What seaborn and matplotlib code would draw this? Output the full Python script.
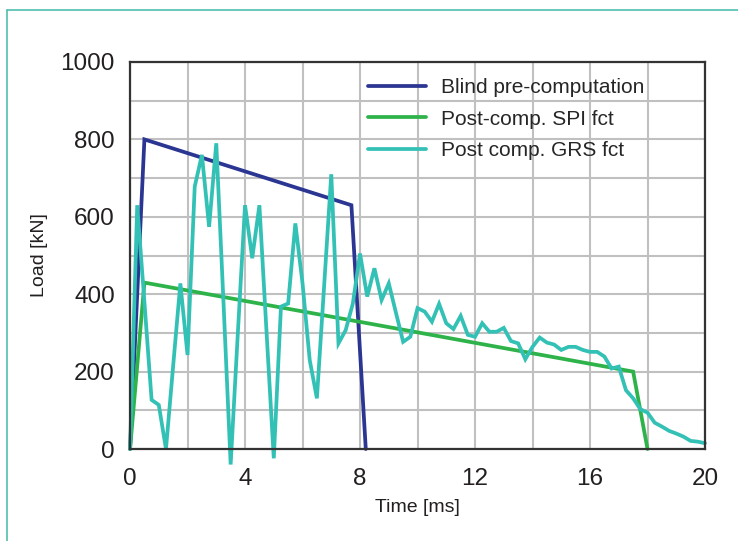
import numpy as np
import pandas as pd
import seaborn as sns
import matplotlib.pyplot as plt
from matplotlib.lines import Line2D
from matplotlib.ticker import MultipleLocator

# blind pre-computation (time in ms, load in kN)
blind_t = [0, 0.5, 7.7, 8.2]
blind_load = [0, 800, 630, 0]

# post-comp. SPI fct
spi_t = [0, 0.5, 17.5, 18.0]
spi_load = [0, 430, 200, 0]

# post comp. GRS fct, sampled every 0.25 ms
grs_t = [0, 0.25, 0.5, 0.75, 1.0, 1.25, 1.5, 1.75, 2.0, 2.25, 2.5, 2.75, 3.0, 3.25,
         3.5, 3.75, 4.0, 4.25, 4.5, 4.75, 5.0, 5.25, 5.5, 5.75, 6.0, 6.25, 6.5, 6.75,
         7.0, 7.25, 7.5, 7.75, 8.0, 8.25, 8.5, 8.75, 9.0, 9.25, 9.5, 9.75, 10.0, 10.25,
         10.5, 10.75, 11.0, 11.25, 11.5, 11.75, 12.0, 12.25, 12.5, 12.75, 13.0, 13.25,
         13.5, 13.75, 14.0, 14.25, 14.5, 14.75, 15.0, 15.25, 15.5, 15.75, 16.0, 16.25,
         16.5, 16.75, 17.0, 17.25, 17.5, 17.75, 18.0, 18.25, 18.5, 18.75, 19.0, 19.25,
         19.5, 19.75, 20.0]
grs_load = [0, 630, 380, 127, 114, 0, 215, 428, 243, 678, 760, 574, 790, 380,
            -40, 300, 630, 493, 630, 300, -24, 368, 376, 583, 428, 230, 131, 420,
            710, 273, 307, 376, 505, 394, 467, 385, 428, 352, 277, 290, 364, 355,
            329, 375, 325, 310, 344, 295, 290, 325, 303, 303, 313, 279,
            273, 232, 264, 288, 275, 270, 256, 264, 264, 256, 251, 251,
            239, 208, 213, 152, 131, 103, 94, 68, 58, 47, 40, 32,
            21, 19, 15]

labels = ['Blind pre-computation', 'Post-comp. SPI fct', 'Post comp. GRS fct']
colors = ['#2b3592', '#2db34a', '#33c1b6']

sns.set_style('white')
plt.rcParams['font.family'] = ['Liberation Sans', 'DejaVu Sans']

fig = plt.figure(figsize=(7.38, 5.41), dpi=100)
ax = fig.add_axes([0.1762, 0.170, 0.7791, 0.7154])

series = [(blind_t, blind_load), (spi_t, spi_load), (grs_t, grs_load)]
for (t, load), lab, col in zip(series, labels, colors):
    df = pd.DataFrame({'t': t, 'load': load})
    sns.lineplot(data=df, x='t', y='load', ax=ax, color=col, lw=2.7,
                 label=lab, estimator=None, sort=False, clip_on=False,
                 solid_joinstyle='miter', zorder=3)

ax.set_xlim(0, 20)
ax.set_ylim(0, 1000)
ax.xaxis.set_major_locator(MultipleLocator(4))
ax.xaxis.set_minor_locator(MultipleLocator(2))
ax.yaxis.set_major_locator(MultipleLocator(200))
ax.yaxis.set_minor_locator(MultipleLocator(100))
ax.grid(True, which='both', color='#c0c0c0', lw=1.5, zorder=0)
ax.set_axisbelow(True)
ax.tick_params(which='both', length=0, labelsize=17.5, colors='#231f20')
ax.tick_params(axis='x', pad=14)
ax.tick_params(axis='y', pad=11)

for s in ax.spines.values():
    s.set_color('#333333')
    s.set_linewidth(1.6)
    s.set_zorder(4)

ax.set_xlabel('Time [ms]', fontsize=14, color='#231f20', labelpad=6)
ax.set_ylabel('Load [kN]', fontsize=14, color='#231f20', labelpad=9)

ax.legend(loc='upper left', bbox_to_anchor=(0.414, 0.958), frameon=False,
          fontsize=15, handlelength=2.8, handletextpad=0.72,
          labelspacing=0.6, borderpad=0, borderaxespad=0)

# teal frame at left and top of the figure
frame_col = '#4fbfae'
fig.add_artist(Line2D([7 / 738, 7 / 738], [0, 1 - 10 / 541], color=frame_col, lw=1.2))
fig.add_artist(Line2D([7 / 738, 1], [1 - 10 / 541, 1 - 10 / 541], color=frame_col, lw=1.2))

fig.savefig('out.png', dpi=100)
